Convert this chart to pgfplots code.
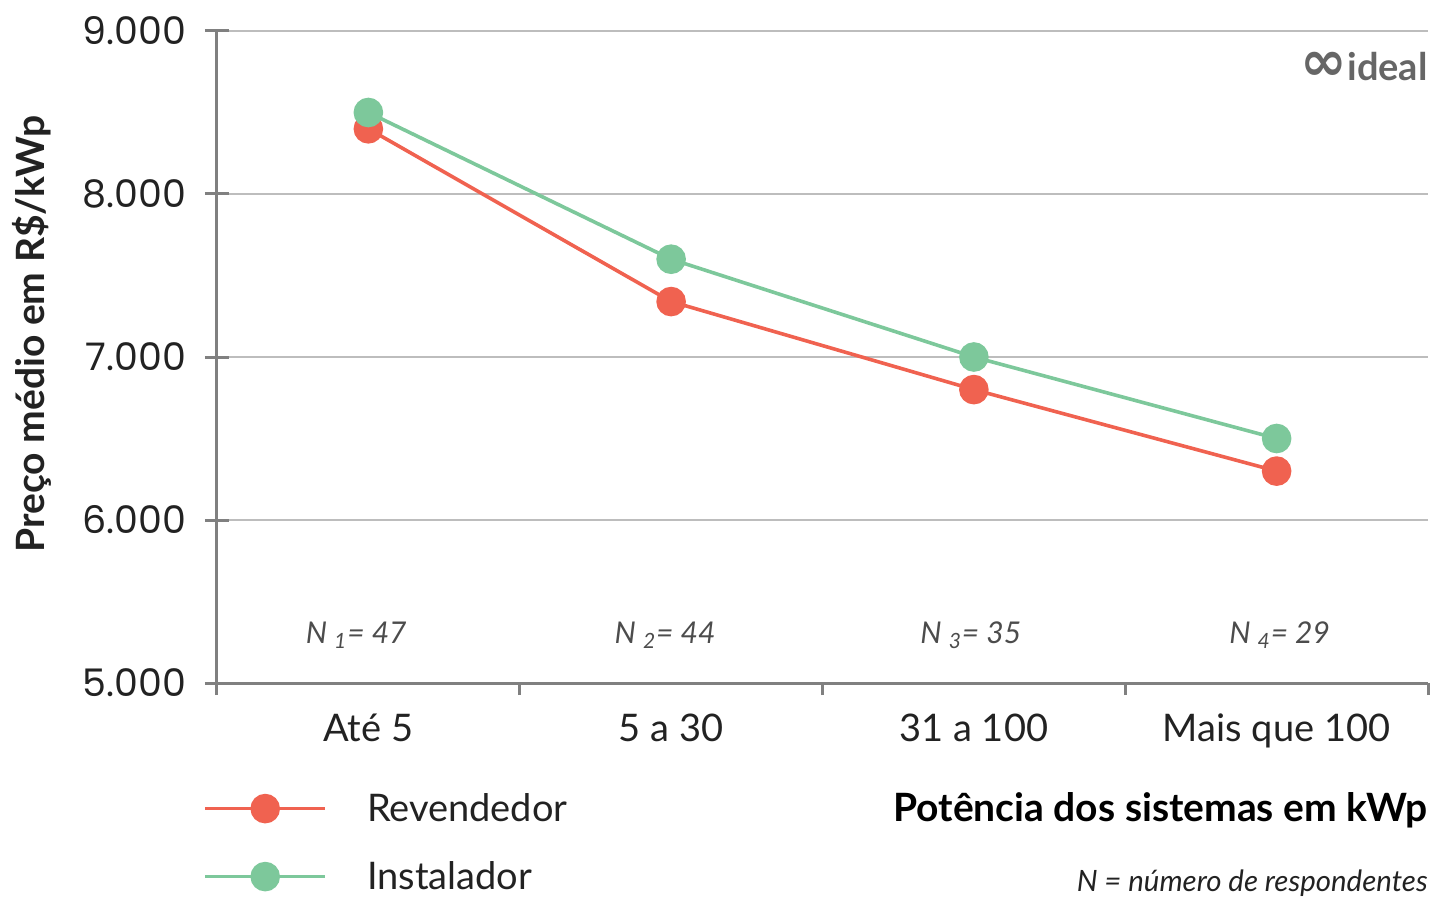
\documentclass[border=0pt]{standalone}
\usepackage{fontspec}
\setmainfont{Lato}
\newfontfamily\poppins{Poppins}
\newfontfamily\dejavu{DejaVu Sans}
\usepackage{pgfplots}
\pgfplotsset{compat=1.18}
\definecolor{rev}{HTML}{F06250}
\definecolor{ins}{HTML}{7DC89B}
\definecolor{axgray}{HTML}{808080}
\definecolor{gridgray}{HTML}{BDBDBD}
\definecolor{txt}{HTML}{222222}
\begin{document}
\begin{tikzpicture}
\useasboundingbox (-108.5pt,-107.5pt) rectangle (608pt,341.5pt);
\begin{axis}[
  at={(0,0)}, anchor=south west,
  scale only axis, width=605.5pt, height=326pt,
  xmin=-0.5, xmax=3.5, ymin=5000, ymax=9000,
  axis x line=bottom, axis y line=left,
  axis line style={-, axgray, line width=1.5pt},
  ytick={5000,6000,7000,8000,9000},
  ymajorgrids, grid style={gridgray, line width=0.75pt},
  xtick={0,1,2,3},
  xticklabels={Até 5, 5 a 30, 31 a 100, Mais que 100},
  minor xtick={-0.5,0.5,1.5,2.5,3.5},
  tick align=outside,
  major tick length=12pt, minor tick length=6pt,
  major x tick style={draw=none},
  minor x tick style={axgray, line width=1.5pt},
  major y tick style={axgray, line width=1.5pt, xshift=6pt},
  /pgf/number format/assume math mode=true,
  /pgf/number format/1000 sep={.},
  yticklabel style={font=\poppins\fontsize{19}{21}\selectfont, text=txt},
  xticklabel style={font=\fontsize{19}{21}\selectfont, text=txt},
  legend style={draw=none, fill=none, at={(-0.0165,-0.156)}, anchor=north west,
    font=\fontsize{19}{21}\selectfont, text=txt, row sep=14.5pt,
    legend cell align=left},
  legend image code/.code={\draw[mark repeat=2, mark phase=2] plot coordinates {(0pt,0pt)(30pt,0pt)(60pt,0pt)};},
  clip=false,
]
\addplot[rev, line width=1.8pt, mark=*, mark size=6.5pt, mark options={fill=rev, draw=none}]
  coordinates {(0,8400)(1,7340)(2,6800)(3,6300)};
\addlegendentry{\hspace{18pt}Revendedor}
\addplot[ins, line width=1.8pt, mark=*, mark size=6.5pt, mark options={fill=ins, draw=none}]
  coordinates {(0,8500)(1,7600)(2,7000)(3,6500)};
\addlegendentry{\hspace{18pt}Instalador}

\node[rotate=90, font=\bfseries\fontsize{19.5}{21}\selectfont, text=txt] at (rel axis cs:-0.1528,0.535) {Preço médio em R\$/kWp};
\node[anchor=east, inner sep=0pt, font=\bfseries\fontsize{19.5}{21}\selectfont, text=black] at (rel axis cs:1.0,-0.1948) {Potência dos sistemas em kWp};
\node[anchor=east, inner sep=0pt, font=\itshape\fontsize{14.7}{17}\selectfont, text=txt] at (rel axis cs:1.0,-0.3075) {N = número de respondentes};
\node[font=\itshape\fontsize{15}{17}\selectfont, text=black!70] at (axis cs:-0.04,5294) {N \textsubscript{1}= 47};
\node[font=\itshape\fontsize{15}{17}\selectfont, text=black!70] at (axis cs:0.98,5294) {N \textsubscript{2}= 44};
\node[font=\itshape\fontsize{15}{17}\selectfont, text=black!70] at (axis cs:1.99,5294) {N \textsubscript{3}= 35};
\node[font=\itshape\fontsize{15}{17}\selectfont, text=black!70] at (axis cs:3.01,5294) {N \textsubscript{4}= 29};
\node[anchor=east, inner sep=0pt, font=\bfseries\fontsize{19}{21}\selectfont, text=black!60] at (rel axis cs:1.0,0.945) {{\dejavu\bfseries\fontsize{28}{28}\selectfont ∞}ideal};
\end{axis}
\end{tikzpicture}
\end{document}
